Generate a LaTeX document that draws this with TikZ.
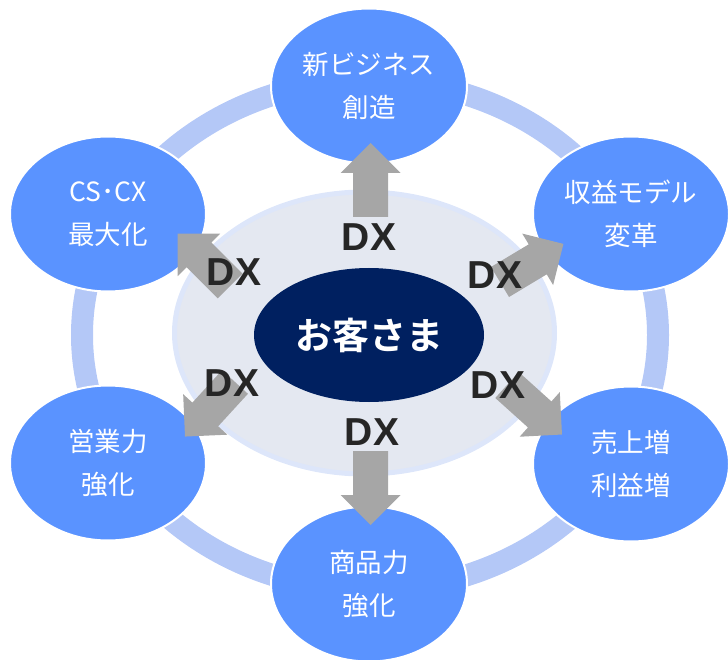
\documentclass[tikz,border=0pt]{standalone}
\usepackage{fontspec}
\newfontfamily\jp{Noto Sans CJK JP}[BoldFont={Noto Sans CJK JP Bold}]
\newfontfamily\dxfont{Liberation Sans}
\usetikzlibrary{shapes.geometric}
\definecolor{ringblue}{RGB}{180,200,247}
\definecolor{circblue}{RGB}{90,147,255}
\definecolor{lightfill}{RGB}{228,232,241}
\definecolor{lightedge}{RGB}{221,230,250}
\definecolor{navy}{RGB}{0,32,96}
\definecolor{arrowgray}{RGB}{166,166,166}
\definecolor{dxtext}{RGB}{38,38,38}
\tikzset{
  circ/.style={draw=white, line width=2pt, fill=circblue, ellipse, minimum width=196pt, minimum height=155pt, inner sep=0pt,
    text=white, align=center, font=\jp\fontsize{26.5}{45}\selectfont},
  dxlabel/.style={text=dxtext, font=\dxfont\bfseries\fontsize{39}{39}\selectfont, inner sep=0pt},
  pics/blockarr/.style={code={
    \fill[arrowgray] (0,-17.5) -- (44,-17.5) -- (44,-30) -- (74,0) -- (44,30) -- (44,17.5) -- (0,17.5) -- cycle;}}
}
\begin{document}
\begin{tikzpicture}[x=1pt,y=-1pt]
\useasboundingbox (0,0) rectangle (728,660);
% ring
\draw[ringblue, line width=22pt] (370,335) ellipse [x radius=288, y radius=255];
% outer circles
\node[circ] (top) at (369,86) {\raisebox{-2pt}{新ビジネス}\\創造};
\node[circ] (ul) at (108,214) {\raisebox{-2pt}{CS･CX}\\最大化};
\node[circ] (ur) at (631,214) {\raisebox{-2pt}{収益モデル}\\変革};
\node[circ] (ll) at (108,463) {\raisebox{-2pt}{営業力}\\強化};
\node[circ] (lr) at (631,464) {\raisebox{-2pt}{売上増}\\利益増};
\node[circ] (bot) at (369,584) {\raisebox{-2pt}{商品力}\\強化};
% centre
\node[ellipse, fill=lightfill, draw=lightedge, line width=5pt, minimum width=380pt, minimum height=282pt, inner sep=0pt] (halo) at (364.5,333) {};
\node[ellipse, fill=navy, minimum width=230pt, minimum height=134pt, inner sep=0pt, text=white, font=\jp\bfseries\fontsize{37}{37}\selectfont] (cust) at (369,335) {お客さま};
% arrows
\path (370.5,217) pic[rotate=90] {blockarr};
\path (370.5,451) pic[rotate=-90] {blockarr};
\path (230,286) pic[rotate=135] {blockarr};
\path (500,282) pic[rotate=31] {blockarr};
\path (235,382) pic[rotate=227.5] {blockarr};
\path (507,385) pic[rotate=-42] {blockarr};
% DX labels
\node[dxlabel] (dxt) at (369,237) {DX};
\node[dxlabel] (dxul) at (234,272) {DX};
\node[dxlabel] (dxur) at (495,275) {DX};
\node[dxlabel] (dxll) at (232,383) {DX};
\node[dxlabel] (dxlr) at (498,385) {DX};
\node[dxlabel] (dxb) at (372,432) {DX};
\end{tikzpicture}
\end{document}
